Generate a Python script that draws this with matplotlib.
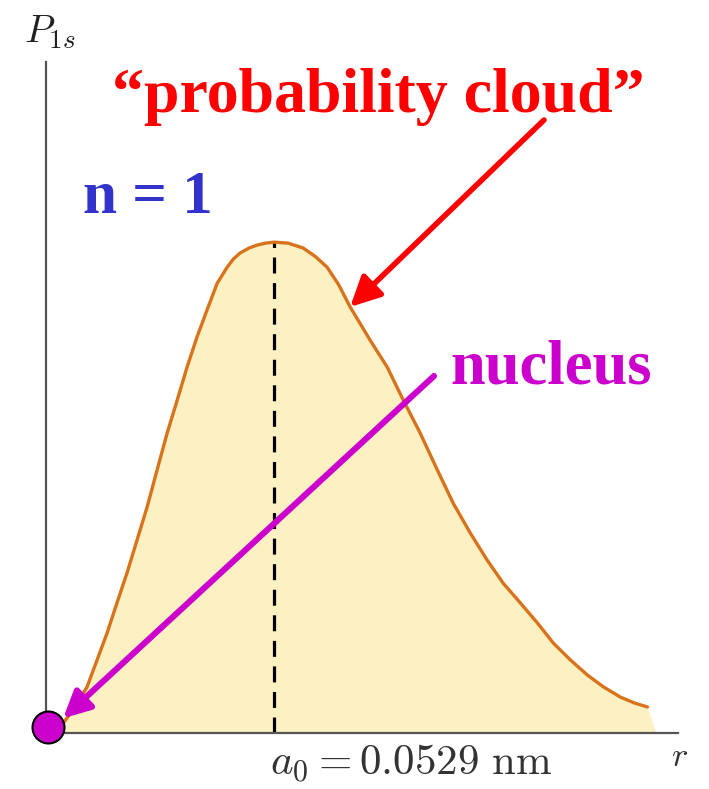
import numpy as np
import matplotlib
matplotlib.use('Agg')
from matplotlib import pyplot as plt

# radial distance in units of a0, and relative probability
r_vals = [0.0, 0.075, 0.118, 0.180, 0.224, 0.268, 0.311, 0.355, 0.399, 0.443, 0.487,
          0.531, 0.575, 0.618, 0.662, 0.706, 0.750, 0.794, 0.822, 0.851, 0.890, 0.925,
          0.962, 1.0, 1.061, 1.127, 1.180, 1.232, 1.283, 1.333, 1.421, 1.496, 1.566,
          1.640, 1.715, 1.785, 1.860, 1.934, 2.004, 2.079, 2.154, 2.224, 2.298, 2.373,
          2.443, 2.518, 2.580, 2.636]
p_vals = [0.0, 0.020, 0.047, 0.094, 0.149, 0.204, 0.265, 0.326, 0.393, 0.460, 0.536,
          0.611, 0.678, 0.745, 0.807, 0.862, 0.916, 0.949, 0.966, 0.978, 0.988, 0.994,
          0.998, 1.0, 0.998, 0.988, 0.971, 0.949, 0.913, 0.868, 0.800, 0.745, 0.678,
          0.611, 0.536, 0.468, 0.407, 0.352, 0.305, 0.265, 0.224, 0.183, 0.149, 0.118,
          0.094, 0.073, 0.061, 0.053]
fill_end = 2.675
a0_pos = 1.0
cloud_idx = 29          # curve point the red arrow hits
nucleus_tip = (0.075, 0.03)
nucleus_pos = (0.01, 0.012)

W, H = 709, 789
def fp(x, y):
	return (x / W, 1 - y / H)

plt.rcParams['mathtext.fontset'] = 'cm'
fig = plt.figure(figsize=(W / 100, H / 100), dpi=100)
ax = fig.add_axes([46 / W, (H - 733) / H, (678 - 46) / W, (733 - 62) / H])
ax.set_xlim(0, 2.77)
ax.set_ylim(0, 1.367)
for s in ['top', 'right']:
	ax.spines[s].set_visible(False)
for s in ['left', 'bottom']:
	ax.spines[s].set_color('#555555')
	ax.spines[s].set_linewidth(1.6)
	ax.spines[s].set_zorder(4)
ax.set_xticks([])
ax.set_yticks([])

ax.fill(np.r_[r_vals, fill_end], np.r_[p_vals, 0], color='#FDF0C2', lw=0, zorder=1)
ax.plot(r_vals, p_vals, color='#D8731C', lw=2.4, zorder=3, solid_capstyle='round',
        solid_joinstyle='round')
ax.vlines(a0_pos, 0, max(p_vals), colors='black', linestyles=(0, (5, 3)), lw=2.3, zorder=2)

serif = ['Liberation Serif', 'DejaVu Serif']
fig.text(*fp(378, 112), '\u201cprobability cloud\u201d', color='#FF0000', fontsize=46,
         fontweight='bold', family=serif, ha='center', va='baseline')
fig.text(*fp(148, 213), 'n = 1', color='#3333CC', fontsize=44,
         fontweight='bold', family=serif, ha='center', va='baseline')
fig.text(*fp(551, 383), 'nucleus', color='#CC00CC', fontsize=45,
         fontweight='bold', family=serif, ha='center', va='baseline')

fig.text(*fp(24, 42), r'$P_{1s}$', color='#222222', fontsize=28, ha='left', va='baseline')
fig.text(*fp(680, 766), r'$r$', color='#333333', fontsize=25, ha='center', va='baseline')
fig.text(*fp(411, 775), r'$a_0 = 0.0529\ \mathrm{nm}$', color='#333333', fontsize=31,
         ha='center', va='baseline')

ax.annotate('', xy=(r_vals[cloud_idx], p_vals[cloud_idx]), xycoords='data',
            xytext=fp(544, 120), textcoords='figure fraction',
            arrowprops=dict(arrowstyle='-|>,head_length=1.8,head_width=0.9', color='#FF0000',
                            lw=4, shrinkA=0, shrinkB=0), zorder=5)
ax.annotate('', xy=nucleus_tip, xycoords='data',
            xytext=fp(434, 376), textcoords='figure fraction',
            arrowprops=dict(arrowstyle='-|>,head_length=1.6,head_width=0.8', color='#CC00CC',
                            lw=4.4, shrinkA=0, shrinkB=0), zorder=5)
ax.plot(*nucleus_pos, 'o', ms=23, color='#CC00CC', mec='black', mew=1.5, clip_on=False, zorder=6)

fig.savefig('out.png', dpi=100)
